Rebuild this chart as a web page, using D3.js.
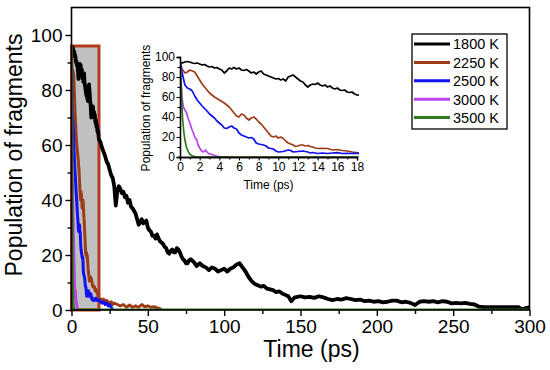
<html>
<head>
  <meta charset="utf-8" />
  <script src="https://d3js.org/d3.v7.min.js"></script>
</head>
<body style="margin: 0; background: white">
<script>

// time (ps), population
const s1800 = [[0,95],[0.25,94],[0.5,95],[0.75,95.5],[1,95],[1.25,94],[1.5,93.5],[1.75,94],[2,93],[2.25,92],[2.5,92.5],[2.75,91],[3,90],[3.25,90.5],[3.5,89],[3.75,89.5],[4,88],[4.25,87],[4.5,84],[4.75,86],[5,89],[5.25,88],[5.5,89.5],[5.75,88],[6,89],[6.25,87],[6.5,86.5],[6.75,87.5],[7,86],[7.25,84],[7.5,85],[7.75,83],[8,85],[8.25,86],[8.5,83],[8.75,82],[9,81],[9.25,80],[9.5,79],[9.75,78],[10,78.5],[10.25,77],[10.5,78],[10.75,76],[11,80],[11.25,81],[11.5,82],[11.75,80],[12,78],[12.25,76],[12.5,75],[12.75,72],[13,70],[13.25,72],[13.5,73],[13.75,72.5],[14,74],[14.25,72],[14.5,71],[14.75,72],[15,70],[15.25,71],[15.5,69],[15.75,68],[16,69],[16.25,67],[16.5,66.5],[16.75,67],[17,65],[17.25,64.5],[17.5,65],[17.75,63],[18,62],
  [19,61],[20,59],[21,57.5],[22,56],[23,54],[24,53],[25,51],[26,49],[27,48],[28,45],[29,38],[30,43],[31,45],[32,44],[33,42.5],[34,43],[35,41],[36,41.5],[37,39],[38,40],[39,37.5],[40,37],[41,36],[42,35],[43,33],[44,31],[45,32],[46,33],[47,31.5],[48,32],[49,32.5],[50,30],[51,29],[52,28.5],[53,27],[54,27],[55,26],[56,27.5],[57,26],[58,25],[59,24.5],[60,24],[61,23],[62,22.5],[63,21],[64,20.5],[65,21.5],[66,22],[67,21],[68,21],[69,22.5],[70,22],[71,21],[72,19.5],[73,18.5],[74,18],[75,17],[76,17],[77,18],[78,18.5],[79,18],[80,17.5],[82,16],[84,17],[86,16],[88,15.5],[90,14.5],[92,15.5],[94,15],[96,14],[98,14.5],[100,15],[102,14],[104,15],[106,15.5],[108,16.5],[110,17],[112,15.5],[114,14],[116,12],[118,10.5],[120,9.5],[122,9],[124,8.5],[126,8.8],[128,7.8],[130,7.5],[132,7.2],[134,6.5],[136,6.8],[138,6],[140,5.5],[142,5],[144,3.2],[146,4.5],[148,4.8],[150,5],[153,4.6],[156,4.8],[159,4.4],[162,5],[165,4.6],[168,4],[171,3.6],[174,4],[177,3.8],[180,4.3],[183,4],[186,3.6],[189,3.8],[192,3.2],[195,3.4],[198,3],[201,3.2],[204,2.8],[207,3],[210,3.4],[213,3.4],[216,2.8],[219,3],[222,2.6],[225,1.8],[228,3],[231,3.2],[234,3],[237,3.2],[240,2.8],[243,3.2],[246,3],[249,2.4],[252,2.6],[255,2.4],[258,2.6],[261,2.2],[264,2],[267,1.2],[270,1],[274,1],[278,1],[282,1],[286,1],[290,1],[293,1],[295,0.2],[297,0.6],[300,1]];

const s2250 = [[0,96],[0.2,88],[0.5,84],[0.75,85],[1,87],[1.25,86],[1.5,85],[1.75,81],[2,77],[2.25,73],[2.5,70],[2.75,67],[3,64],[3.25,62],[3.5,60],[3.75,58.5],[4,57],[4.5,54],[5,50],[5.25,47],[5.5,44],[5.75,41],[6,40],[6.25,43],[6.5,42],[6.75,39],[7,37],[7.25,39],[7.5,40],[7.75,38],[8,35],[8.25,33],[8.5,30],[8.75,27],[9,24],[9.25,21],[9.5,20],[9.75,21],[10,19],[10.25,20],[10.5,18.5],[10.75,16],[11,14],[11.25,13],[11.5,12],[11.75,10.5],[12,11],[12.25,12],[12.5,12],[12.75,11],[13,11.5],[13.25,10.5],[13.5,10],[13.75,9],[14,8.5],[14.5,8.7],[15,8.5],[15.5,7],[16,7.5],[16.5,6.5],[17,6],[17.5,5],[18,4.3],[19,4],[20,3.5],[21,4],[22,3],[23,3.5],[24,3],[25,2.5],[26,3],[27,2],[28,2.5],[30,2],[32,1.5],[34,2],[36,1],[38,1.8],[40,1],[42,1.5],[44,1],[46,2],[48,1.2],[50,1.5],[52,1],[54,1.2],[56,0.8],[58,0.5],[59,0]];

const s2500 = [[0,96],[0.2,85],[0.5,72],[0.75,69],[1,68],[1.25,66],[1.5,61],[1.75,57],[2,54],[2.25,51],[2.5,48.5],[2.75,46],[3,43],[3.25,41],[3.5,39],[3.75,36],[4,34],[4.25,32],[4.5,29],[4.75,28.5],[5,30],[5.25,31],[5.5,29],[5.75,28],[6,24],[6.25,22],[6.5,21],[6.75,20],[7,19],[7.25,19.5],[7.5,18],[7.75,14],[8,13],[8.25,12.5],[8.5,12],[8.75,11],[9,9],[9.5,8],[9.75,6],[10,5],[10.5,5.5],[11,7],[11.25,6.5],[11.5,5],[12,5.5],[12.5,6],[13,5],[13.25,4],[13.5,4.5],[14,3.5],[14.5,4],[15,3.5],[15.5,4],[16,4.3],[16.5,3.5],[17,3.7],[17.5,3.5],[18,3.7],[19,3],[20,2.5],[21,3],[22,2],[23,2.5],[24,1.5],[25,2],[26,1],[27,0]];

const s3000 = [[0,96],[0.1,80],[0.2,60],[0.34,50],[0.5,47],[0.67,44],[0.85,38],[1,34],[1.2,28],[1.36,24],[1.5,20],[1.7,17],[1.85,12],[2,9],[2.2,6],[2.4,5],[2.6,7],[2.75,5],[2.9,3.5],[3.1,3],[3.4,2],[3.7,1],[4,0.5],[4.4,0],[5,0]];

const s3500 = [[0,96],[0.1,75],[0.2,50],[0.27,37],[0.4,24],[0.5,17],[0.65,10],[0.85,5],[1,3],[1.2,1.3],[1.5,0.5],[1.7,0],[300,0]];

const seriesNames = ['1800 K', '2250 K', '2500 K', '3000 K', '3500 K'];
const seriesData = [s1800, s2250, s2500, s3000, s3500];
const seriesColors = ['#000000', '#9c3d17', '#1010f0', '#bb44ee', '#2f7a1f'];

const insetWindow = [18, 96];   // zoomed region (time, population)

const xTicks = [0, 50, 100, 150, 200, 250, 300];
const yTicks = [0, 20, 40, 60, 80, 100];
const insetXTicks = [0, 2, 4, 6, 8, 10, 12, 14, 16, 18];

const font = 'Liberation Sans, Arial, sans-serif';

var svg = d3.select("body").append("svg")
  .attr("width", 550)
  .attr("height", 370)
  .style("font-family", font)

// ---- main plot
const L = 71.5, R = 529.5, T = 7.5, B = 310;
var x = d3.scaleLinear().domain([0, 300]).range([L, R]);
var y = d3.scaleLinear().domain([0, 110]).range([B, T]);

svg.append("clipPath").attr("id", "clipMain")
  .append("rect").attr("x", L).attr("y", T).attr("width", R - L).attr("height", B - T);

// highlighted window
svg.append("rect")
  .attr("x", x(0)).attr("y", y(insetWindow[1]))
  .attr("width", x(insetWindow[0]) - x(0)).attr("height", y(0) - y(insetWindow[1]))
  .attr("fill", "#c0c0c0").attr("stroke", "#b53a1a").attr("stroke-width", 3)

var mainLines = svg.append("g").attr("clip-path", "url(#clipMain)");
var line = d3.line().x(d => x(d[0])).y(d => y(d[1]));
seriesData.forEach((s, i) => {
  mainLines.append("path")
    .attr("d", line(s))
    .attr("fill", "none")
    .attr("stroke", seriesColors[i])
    .attr("stroke-width", i == 0 ? 3.8 : 3)
    .attr("stroke-linejoin", "round")
})

// axes
svg.append("g").attr("transform", `translate(0,${B})`)
  .call(d3.axisBottom(x).tickValues(xTicks).tickSize(6).tickPadding(4));
svg.append("g").attr("transform", `translate(0,${B})`)
  .call(d3.axisBottom(x).tickValues(d3.range(25, 300, 50)).tickSize(4).tickFormat(""));
svg.append("g").attr("transform", `translate(${L},0)`)
  .call(d3.axisLeft(y).tickValues(yTicks).tickSize(6).tickPadding(3));
svg.append("g").attr("transform", `translate(${L},0)`)
  .call(d3.axisLeft(y).tickValues(d3.range(10, 110, 20)).tickSize(4).tickFormat(""));

svg.selectAll(".domain").remove();
svg.selectAll(".tick line").attr("stroke-width", 1.4);
svg.selectAll(".tick text").style("font-size", "19px").style("font-family", font).attr("fill", "#000");

svg.append("rect")
  .attr("x", L).attr("y", T).attr("width", R - L).attr("height", B - T)
  .attr("fill", "none").attr("stroke", "#000").attr("stroke-width", 1.6)

svg.append("text")
  .attr("x", (L + R) / 2 + 11).attr("y", 357)
  .attr("text-anchor", "middle").style("font-size", "23px")
  .text("Time (ps)")

svg.append("text")
  .attr("transform", "translate(22,155) rotate(-90)")
  .attr("text-anchor", "middle").style("font-size", "23px")
  .text("Population of fragments")

// ---- inset
const iL = 180, iR = 357, iT = 57, iB = 157;
var xi = d3.scaleLinear().domain([0, 18]).range([iL, iR]);
var yi = d3.scaleLinear().domain([0, 100]).range([iB, iT]);

svg.append("clipPath").attr("id", "clipInset")
  .append("rect").attr("x", iL).attr("y", iT - 5).attr("width", iR - iL + 2).attr("height", iB - iT + 5);

var insetLines = svg.append("g").attr("clip-path", "url(#clipInset)");
var lineI = d3.line().x(d => xi(d[0])).y(d => yi(d[1]));
seriesData.forEach((s, i) => {
  insetLines.append("path")
    .attr("d", lineI(s))
    .attr("fill", "none")
    .attr("stroke", seriesColors[i])
    .attr("stroke-width", 1.7)
    .attr("stroke-linejoin", "round")
})

var inset = svg.append("g").attr("class", "inset");
inset.append("g").attr("transform", `translate(0,${iB})`)
  .call(d3.axisBottom(xi).tickValues(insetXTicks).tickSize(3.5).tickPadding(1.5));
inset.append("g").attr("transform", `translate(0,${iB})`)
  .call(d3.axisBottom(xi).tickValues(d3.range(1, 18, 2)).tickSize(2.5).tickFormat(""));
inset.append("g").attr("transform", `translate(${iL},0)`)
  .call(d3.axisLeft(yi).tickValues(yTicks).tickSize(3.5).tickPadding(1.5));
inset.append("g").attr("transform", `translate(${iL},0)`)
  .call(d3.axisLeft(yi).tickValues(d3.range(10, 100, 20)).tickSize(2.5).tickFormat(""));
inset.selectAll(".domain").attr("stroke-width", 1.3);
inset.selectAll(".tick line").attr("stroke-width", 1.1);
inset.selectAll(".tick text").style("font-size", "12px").style("font-family", font).attr("fill", "#000");

svg.append("text")
  .attr("x", (iL + iR) / 2).attr("y", 189)
  .attr("text-anchor", "middle").style("font-size", "12px")
  .text("Time (ps)")

svg.append("text")
  .attr("transform", "translate(149.5,108) rotate(-90)")
  .attr("text-anchor", "middle").style("font-size", "12px")
  .text("Population of fragments")

// ---- legend
var legend = svg.append("g");
legend.append("rect")
  .attr("x", 412).attr("y", 34).attr("width", 95).attr("height", 95)
  .attr("fill", "white").attr("stroke", "#000").attr("stroke-width", 1.3)

seriesNames.forEach((name, i) => {
  let ly = 44 + i * 18.4;
  legend.append("line")
    .attr("x1", 414).attr("x2", 450).attr("y1", ly).attr("y2", ly)
    .attr("stroke", seriesColors[i]).attr("stroke-width", 3)
  legend.append("text")
    .attr("x", 453).attr("y", ly + 5.3)
    .style("font-size", "14.5px")
    .text(name)
})

</script>
</body>
</html>
